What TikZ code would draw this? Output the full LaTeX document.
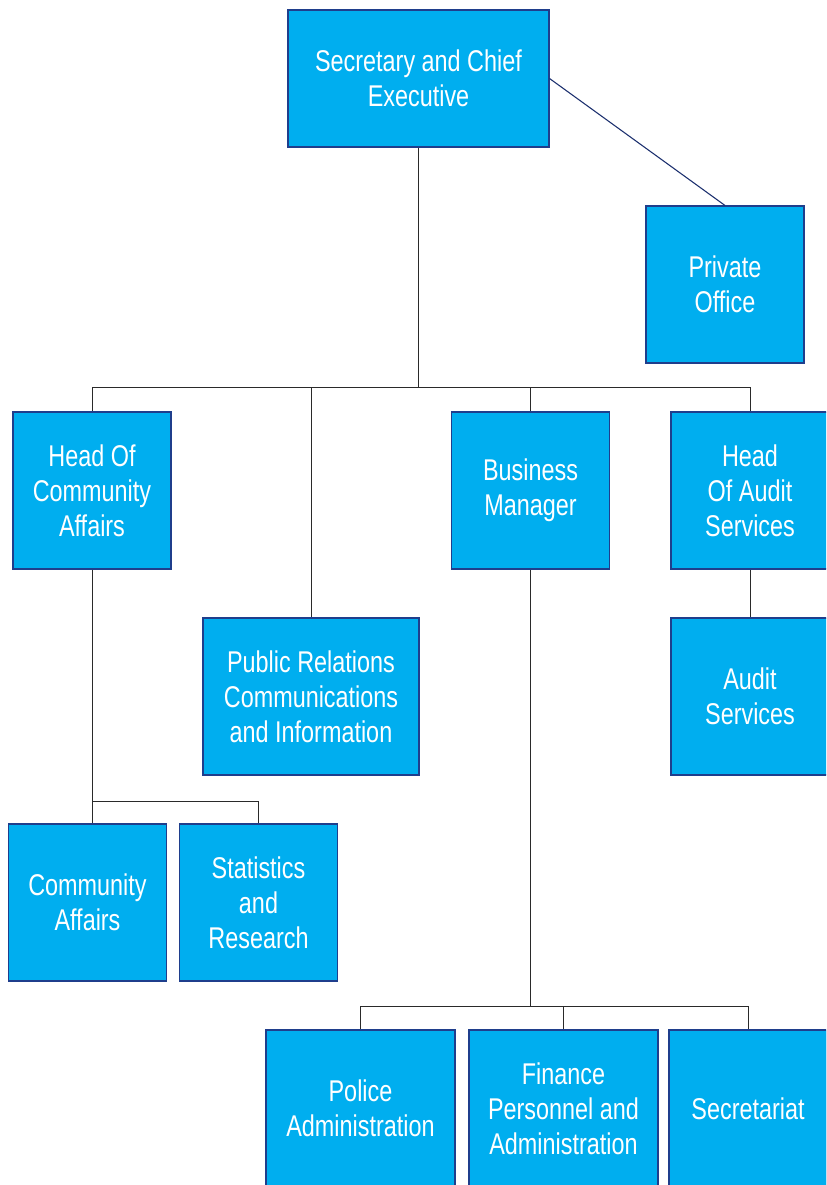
\documentclass[tikz,border=0pt]{standalone}
\usepackage{fontspec}
\setmainfont{Liberation Sans}[FakeStretch=0.78]
\definecolor{boxfill}{HTML}{00AEEF}
\definecolor{boxedge}{HTML}{1F3E8C}
\definecolor{linecol}{HTML}{2A2A2A}
\definecolor{navy}{HTML}{1B2F6E}
\begin{document}
\begin{tikzpicture}[x=0.75pt,y=-0.75pt,
  orgbox/.style={draw=boxedge,line width=0.8pt,fill=boxfill,text=white,
    align=center,inner sep=0pt,minimum height=117.75pt,
    font=\fontsize{22.5}{26.4}\selectfont},
  conn/.style={draw=linecol,line width=0.7pt}]
\useasboundingbox (0,0) rectangle (826,1185);
\clip (0,0) rectangle (826,1185);
\fill[white] (0,0) rectangle (826,1185);
\node[orgbox,minimum width=195.75pt,minimum height=102.75pt] (sec) at (418.5,78.5) {Secretary and Chief\\Executive};
\node[orgbox,minimum width=118.5pt] (priv) at (725,284.5) {Private\\Office};
\node[orgbox,minimum width=118.5pt] (hca) at (92,490.5) {Head Of\\Community\\Affairs};
\node[orgbox,minimum width=162pt] (pr) at (311,696.5) {Public Relations\\Communications\\and Information};
\node[orgbox,minimum width=118.5pt] (bm) at (530.5,490.5) {Business\\Manager};
\node[orgbox,minimum width=118.5pt] (hau) at (750,490.5) {Head\\Of Audit\\Services};
\node[orgbox,minimum width=118.5pt] (au) at (750,696.5) {Audit\\Services};
\node[orgbox,minimum width=118.5pt] (ca) at (87.5,902.5) {Community\\Affairs};
\node[orgbox,minimum width=118.5pt] (sr) at (258.5,902.5) {Statistics\\and\\Research};
\node[orgbox,minimum width=141.75pt] (pa) at (360.5,1108.5) {Police\\Administration};
\node[orgbox,minimum width=141.75pt] (fpa) at (563.5,1108.5) {Finance\\Personnel and\\Administration};
\node[orgbox,minimum width=118.5pt] (sct) at (748,1108.5) {Secretariat};
\coordinate (bar) at (418.5,387);
\coordinate (bar2) at (92,801);
\coordinate (bar3) at (530.5,1006);
\draw[draw=navy,line width=0.8pt] (sec.east) -- (priv.north);
\draw[conn] (sec.south) -- (bar);
\draw[conn] (bar) -| (hca.north);
\draw[conn] (bar) -| (pr.north);
\draw[conn] (bar) -| (bm.north);
\draw[conn] (bar) -| (hau.north);
\draw[conn] (hau.south) -- (au.north);
\draw[conn] (hca.south) -- (hca.south |- ca.north);
\draw[conn] (bar2) -| (sr.north);
\draw[conn] (bm.south) -- (bar3);
\draw[conn] (bar3) -| (pa.north);
\draw[conn] (bar3) -| (fpa.north);
\draw[conn] (bar3) -| (sct.north);
\end{tikzpicture}
\end{document}
